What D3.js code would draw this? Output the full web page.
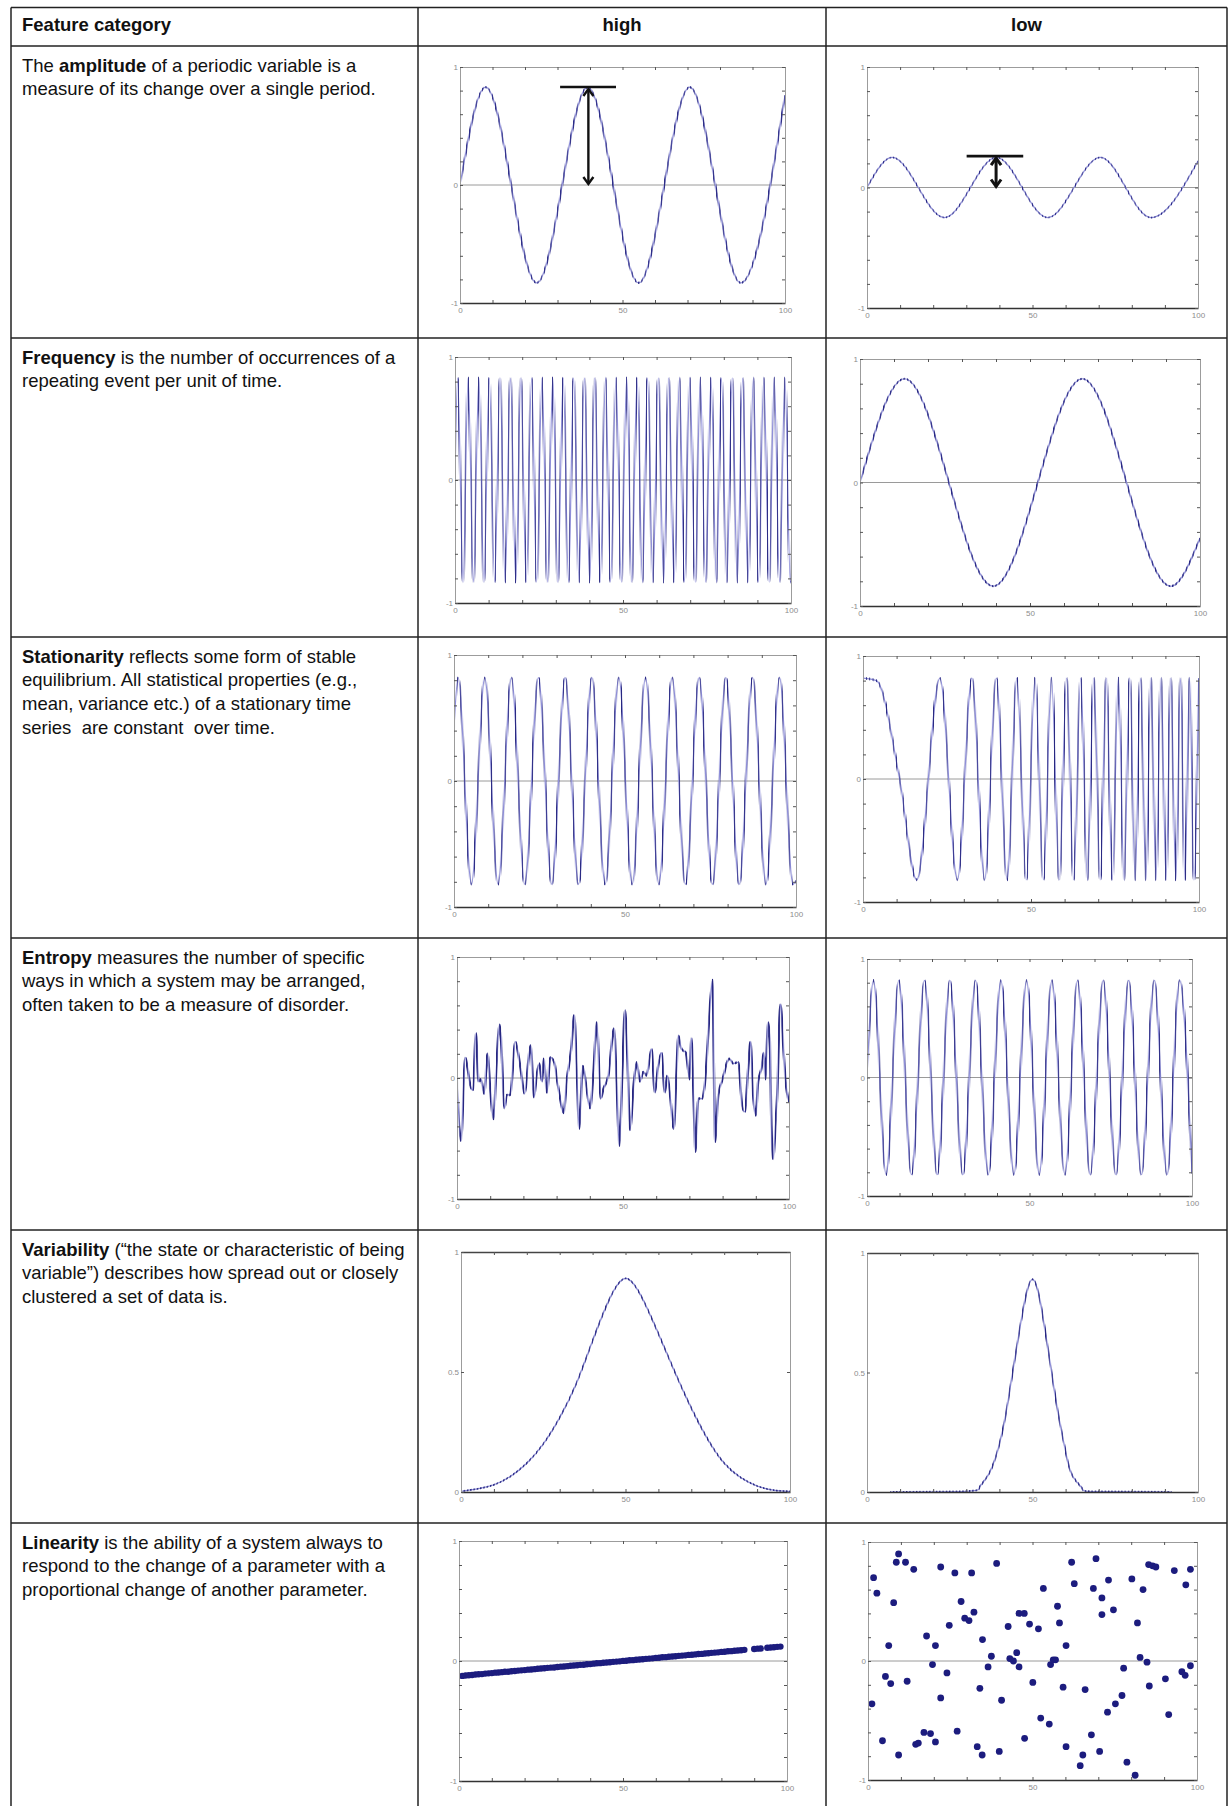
<!DOCTYPE html>
<html>
<head>
<meta charset="utf-8">
<script src="https://cdn.jsdelivr.net/npm/d3@7"></script>
<style>
  body { margin: 0; background: #fff; }
  svg { display: block; }
</style>
</head>
<body>
<script>
// ---- table text ----
var headers = ["Feature category", "high", "low"];

// each row: list of lines, each line: list of [text, bold]
var featureRows = [
  [[["The ", 0], ["amplitude", 1], [" of a periodic variable is a", 0]],
   [["measure of its change over a single period.", 0]]],
  [[["Frequency", 1], [" is the number of occurrences of a", 0]],
   [["repeating event per unit of time.", 0]]],
  [[["Stationarity", 1], [" reflects some form of stable", 0]],
   [["equilibrium. All statistical properties (e.g.,", 0]],
   [["mean, variance etc.) of a stationary time", 0]],
   [["series  are constant  over time.", 0]]],
  [[["Entropy", 1], [" measures the number of specific", 0]],
   [["ways in which a system may be arranged,", 0]],
   [["often taken to be a measure of disorder.", 0]]],
  [[["Variability", 1], [" (\u201cthe state or characteristic of being", 0]],
   [["variable\u201d) describes how spread out or closely", 0]],
   [["clustered a set of data is.", 0]]],
  [[["Linearity", 1], [" is the ability of a system always to", 0]],
   [["respond to the change of a parameter with a", 0]],
   [["proportional change of another parameter.", 0]]]
];

// ---- axis ticks ----
var xTicks = [0, 10, 20, 30, 40, 50, 60, 70, 80, 90, 100];
var xTickLabels = [0, 50, 100];
var yTicks = [-1, -0.8, -0.6, -0.4, -0.2, 0, 0.2, 0.4, 0.6, 0.8, 1];
var yTickLabels = [-1, 0, 1];
var yTicksVar = [0, 0.5, 1];
var yTickLabelsVar = [0, 0.5, 1];

// ---- series (extrema and key points) ----
var ampHighX = [0, 7.9, 23.6, 39.3, 55.0, 70.7, 86.4, 100];
var ampHighY = [0, 0.83, -0.83, 0.83, -0.83, 0.83, -0.83, 0.76];
var ampLowX = [0, 7.6, 23.4, 39.1, 54.6, 70.5, 85.8, 100];
var ampLowY = [0, 0.25, -0.25, 0.25, -0.25, 0.25, -0.25, 0.22];
// amplitude markers: bar [x0, x1, y], arrow [x, yTop, yBottom]
var ampHighBar = [30.8, 48.0, 0.83];
var ampHighArrow = [39.5, 0.83, 0.0];
var ampLowBar = [30.1, 47.2, 0.26];
var ampLowArrow = [39.0, 0.26, 0.0];

var freqHighX = [0, 0.8, 2.4, 3.9, 5.5, 7.1, 8.6, 10.2, 11.8, 13.4, 14.9,
  16.5, 18.1, 19.6, 21.2, 22.8, 24.3, 25.9, 27.5, 29.1, 30.6,
  32.2, 33.8, 35.3, 36.9, 38.5, 40.1, 41.6, 43.2, 44.8, 46.3,
  47.9, 49.5, 51.1, 52.6, 54.2, 55.8, 57.3, 58.9, 60.5, 62.1,
  63.6, 65.2, 66.8, 68.3, 69.9, 71.5, 73.0, 74.6, 76.2, 77.8,
  79.3, 80.9, 82.5, 84.0, 85.6, 87.2, 88.8, 90.3, 91.9, 93.5,
  95.0, 96.6, 98.2, 99.8, 100];
var freqHighY = [0,
  0.83, -0.83, 0.83, -0.83, 0.83, -0.83, 0.83, -0.83, 0.83, -0.83,
  0.83, -0.83, 0.83, -0.83, 0.83, -0.83, 0.83, -0.83, 0.83, -0.83,
  0.83, -0.83, 0.83, -0.83, 0.83, -0.83, 0.83, -0.83, 0.83, -0.83,
  0.83, -0.83, 0.83, -0.83, 0.83, -0.83, 0.83, -0.83, 0.83, -0.83,
  0.83, -0.83, 0.83, -0.83, 0.83, -0.83, 0.83, -0.83, 0.83, -0.83,
  0.83, -0.83, 0.83, -0.83, 0.83, -0.83, 0.83, -0.83, 0.83, -0.83,
  0.83, -0.83, 0.83, -0.83, -0.82];
var freqLowX = [0, 13.1, 39.2, 65.4, 91.4, 100];
var freqLowY = [0, 0.84, -0.84, 0.84, -0.84, -0.45];

var statHighX = [0, 1.2, 5.1, 9.0, 12.9, 16.8, 20.7, 24.7, 28.6, 32.5, 36.4,
  40.3, 44.2, 48.2, 52.1, 56.0, 59.9, 63.8, 67.7, 71.7, 75.6,
  79.5, 83.4, 87.3, 91.2, 95.2, 99.1, 100];
var statHighY = [0.42, 0.82, -0.82, 0.82, -0.82, 0.82, -0.82, 0.82, -0.82, 0.82, -0.82,
  0.82, -0.82, 0.82, -0.82, 0.82, -0.82, 0.82, -0.82, 0.82, -0.82,
  0.82, -0.82, 0.82, -0.82, 0.82, -0.82, -0.79];
var statLowX = [0, 4, 10.9, 16.0, 22.9, 28.1, 32.4, 36.2, 39.7, 42.9, 45.8, 48.6, 51.2,
  53.7, 56.1, 58.4, 60.6, 62.7, 64.8, 66.8, 68.7, 70.6, 72.4,
  74.2, 76.0, 77.7, 79.4, 81.0, 82.6, 84.2, 85.7, 87.2, 88.7,
  90.2, 91.6, 93.1, 94.5, 95.8, 97.2, 98.5, 99.9];
var statLowY = [0.82, 0.80, 0, -0.82, 0.82, -0.82, 0.82, -0.82, 0.82, -0.82, 0.82, -0.82, 0.82,
  -0.82, 0.82, -0.82, 0.82, -0.82, 0.82, -0.82, 0.82, -0.82, 0.82,
  -0.82, 0.82, -0.82, 0.82, -0.82, 0.82, -0.82, 0.82, -0.82, 0.82,
  -0.82, 0.82, -0.82, 0.82, -0.82, 0.82, -0.82, 0.82];

var entHighX = [0, 1.2, 2.5, 3.2, 4.0, 4.8, 5.7, 6.5, 7.2, 8.2,
  9.2, 10.0, 11.0, 11.8, 12.8, 13.2, 14.3, 15.0, 16.0, 17.6,
  18.5, 19.3, 20.3, 22.2, 23.2, 24.0, 24.8, 25.6, 26.1, 27.1,
  28.1, 29.3, 30.1, 30.9, 32.1, 33.1, 34.4, 35.3, 36.1, 36.8,
  37.9, 38.9, 40.1, 41.1, 42.1, 43.3, 44.1, 45.6, 47.3, 48.1,
  48.9, 49.8, 50.6, 51.3, 52.1, 53.3, 54.1, 55.1, 56.1, 57.1,
  58.6, 59.6, 60.6, 61.6, 62.6, 63.3, 64.1, 65.3, 66.1, 66.7,
  67.6, 68.9, 70.1, 70.6, 71.3, 71.8, 72.7, 73.9, 74.6, 76.5,
  77.0, 77.4, 77.7, 78.7, 80.0, 82.0, 83.2, 84.7, 85.9, 86.7,
  87.7, 88.4, 89.2, 90.0, 90.7, 91.7, 92.4, 92.9, 93.7, 94.2,
  94.7, 95.2, 96.0, 96.4, 97.4, 97.7, 98.2, 99.0, 100];
var entHighY = [-0.01, -0.52, 0.17, 0.08, -0.06, -0.10, 0.37, -0.03, -0.01, -0.13,
  0.20, -0.09, -0.34, 0.05, 0.44, 0.35, -0.25, -0.14, -0.14, 0.30,
  0.19, 0.05, -0.13, 0.27, -0.16, 0.02, 0.12, -0.03, 0.16, -0.12,
  0.17, 0.13, -0.01, -0.14, -0.29, -0.01, 0.24, 0.52, 0.05, -0.42,
  0.10, -0.06, -0.25, 0.05, 0.46, -0.17, -0.09, 0.02, 0.41, -0.06,
  -0.56, 0.05, 0.56, 0.19, -0.43, -0.03, 0.13, -0.03, 0.05, 0.02,
  0.24, -0.12, 0.10, 0.21, -0.12, 0.02, -0.12, -0.42, 0.05, 0.35,
  0.24, 0.21, -0.01, 0.33, -0.20, -0.61, -0.17, -0.17, -0.06, 0.70,
  0.81, 0.05, -0.53, -0.14, -0.01, 0.16, 0.12, 0.13, -0.23, -0.28,
  0.08, 0.30, -0.14, -0.31, -0.03, 0.08, 0.21, -0.01, 0.46, 0.33,
  -0.39, -0.67, -0.36, -0.17, 0.61, 0.55, 0.30, -0.03, -0.20];
var entLowX = [0, 2.0, 5.9, 9.8, 13.7, 17.7, 21.6, 25.5, 29.5, 33.4, 37.3,
  41.2, 45.2, 49.1, 53.0, 56.9, 60.9, 64.8, 68.7, 72.7, 76.6,
  80.5, 84.4, 88.4, 92.3, 96.2, 100];
var entLowY = [0, 0.82, -0.82, 0.82, -0.82, 0.82, -0.82, 0.82, -0.82, 0.82, -0.82,
  0.82, -0.82, 0.82, -0.82, 0.82, -0.82, 0.82, -0.82, 0.82, -0.82,
  0.82, -0.82, 0.82, -0.82, 0.82, -0.81];

var varHighX = [0, 5, 10, 15, 20, 25, 30, 35, 40, 45, 50, 55, 60, 65, 70, 75, 80, 85, 90, 95, 100];
var varHighY = [0.003, 0.013, 0.03, 0.065, 0.12, 0.2, 0.31, 0.45, 0.63, 0.8, 0.89, 0.81, 0.66, 0.5, 0.35, 0.22, 0.12, 0.06, 0.025, 0.008, 0.002];
var varLowX = [7, 30, 34, 37, 40, 42, 44, 46, 48, 50, 52, 54, 56, 58, 60, 62, 65, 69, 92];
var varLowY = [0, 0.003, 0.02, 0.08, 0.2, 0.33, 0.5, 0.67, 0.82, 0.89, 0.82, 0.66, 0.48, 0.31, 0.17, 0.07, 0.015, 0.002, 0];

var linHighX = [1, 2, 3, 4, 5, 6, 7, 8, 9, 10, 11, 12, 13, 14, 15, 16, 17, 18, 19, 20,
  21, 22, 23, 24, 25, 26, 27, 28, 29, 30, 31, 32, 33, 34, 35, 36, 37, 38, 39, 40,
  41, 42, 43, 44, 45, 46, 47, 48, 49, 50, 51, 52, 53, 54, 55, 56, 57, 58, 59, 60,
  61, 62, 63, 64, 65, 66, 67, 68, 69, 70, 71, 72, 73, 74, 75, 76, 77, 78, 79, 80,
  81, 82, 83, 84, 85, 86, 87, 90, 91, 92, 94, 95, 96, 97, 98];
var linHighY = [-0.124, -0.121, -0.119, -0.117, -0.113, -0.111, -0.109, -0.105, -0.103, -0.101,
  -0.097, -0.096, -0.093, -0.090, -0.089, -0.085, -0.083, -0.080, -0.078, -0.076,
  -0.072, -0.071, -0.068, -0.065, -0.063, -0.061, -0.057, -0.055, -0.054, -0.050,
  -0.047, -0.046, -0.043, -0.039, -0.038, -0.035, -0.032, -0.031, -0.027, -0.026,
  -0.022, -0.019, -0.018, -0.015, -0.012, -0.011, -0.007, -0.005, -0.003, 0.001,
  0.002, 0.006, 0.007, 0.010, 0.013, 0.014, 0.018, 0.020, 0.022, 0.026,
  0.027, 0.031, 0.032, 0.035, 0.038, 0.039, 0.043, 0.045, 0.047, 0.051,
  0.052, 0.055, 0.058, 0.059, 0.063, 0.064, 0.068, 0.070, 0.072, 0.076,
  0.077, 0.081, 0.082, 0.085, 0.088, 0.090, 0.093, 0.100, 0.103, 0.104,
  0.110, 0.113, 0.114, 0.118, 0.120];
var linLowX = [1.7, 1.2, 2.7, 4.4, 5.3, 6.3, 6.9, 7.8, 8.6, 9.3,
  9.3, 11.4, 11.9, 13.9, 14.5, 15.3, 17.0, 17.8, 19.0, 19.6,
  20.5, 20.5, 22.1, 22.1, 24.0, 24.7, 26.4, 27.1, 28.3, 29.4,
  30.7, 31.5, 32.2, 33.2, 34.0, 34.7, 34.8, 36.5, 37.5, 39.1,
  39.9, 40.6, 42.6, 43.1, 44.2, 45.2, 45.9, 45.9, 47.5, 47.6,
  49.1, 50.1, 51.8, 52.5, 53.3, 55.1, 55.5, 56.3, 57.0, 57.6,
  58.2, 59.3, 60.2, 60.2, 61.9, 62.7, 64.5, 65.3, 66.0, 67.9,
  68.5, 69.3, 70.4, 71.1, 71.1, 72.8, 73.1, 74.6, 75.2, 77.2,
  77.7, 78.7, 80.2, 81.2, 81.9, 82.7, 83.6, 84.8, 85.3, 85.5,
  86.5, 87.5, 90.4, 91.4, 93.1, 95.4, 96.4, 96.6, 98.0, 98.0];
var linLowY = [0.70, -0.36, 0.57, -0.67, -0.13, 0.13, -0.19, 0.49, 0.83, 0.90,
  -0.79, 0.83, -0.17, 0.77, -0.70, -0.69, -0.60, 0.21, -0.61, -0.03,
  0.13, -0.68, 0.79, -0.31, -0.10, 0.30, 0.74, -0.59, 0.50, 0.36,
  0.34, 0.74, 0.41, -0.72, -0.23, -0.79, 0.18, -0.05, 0.04, 0.82,
  -0.76, -0.33, 0.29, 0.02, 0.00, 0.07, -0.05, 0.40, 0.40, -0.65,
  0.31, -0.18, 0.27, -0.48, 0.61, -0.53, -0.03, 0.01, 0.01, 0.46,
  0.32, -0.22, -0.72, 0.13, 0.83, 0.65, -0.88, -0.79, -0.24, -0.62,
  0.61, 0.86, -0.76, 0.53, 0.39, -0.43, 0.68, 0.43, -0.36, -0.29,
  -0.06, -0.85, 0.69, -0.96, 0.32, 0.03, 0.60, -0.01, 0.81, -0.21,
  0.80, 0.79, -0.15, -0.45, 0.76, -0.09, -0.12, 0.64, 0.77, -0.04];

// ---- layout ----
var W = 1228, H = 1806;
var font = "'Liberation Sans', Arial, Helvetica, sans-serif";
var rowLines = [7.5, 46, 338, 637, 938, 1230, 1523];
var colLines = [11, 418, 826, 1227];

var svg = d3.select("body").append("svg").attr("width", W).attr("height", H);
var defs = svg.append("defs");

// table grid
rowLines.forEach(function(y) {
  svg.append("line").attr("x1", colLines[0]).attr("x2", colLines[3])
    .attr("y1", y).attr("y2", y).attr("stroke", "#222").attr("stroke-width", 1.5);
});
colLines.forEach(function(x) {
  svg.append("line").attr("x1", x).attr("x2", x)
    .attr("y1", rowLines[0]).attr("y2", H + 5).attr("stroke", "#222").attr("stroke-width", 1.5);
});

// header
var headX = [22, (colLines[1] + colLines[2]) / 2, (colLines[2] + colLines[3]) / 2];
headers.forEach(function(h, i) {
  svg.append("text").attr("x", headX[i]).attr("y", 31)
    .attr("text-anchor", i === 0 ? "start" : "middle")
    .attr("font-family", font).attr("font-size", 18.5).attr("font-weight", "bold")
    .attr("fill", "#111").text(h);
});

// description column
featureRows.forEach(function(lines, i) {
  var top = rowLines[i + 1];
  lines.forEach(function(segs, j) {
    var t = svg.append("text").attr("x", 22).attr("y", top + 25.5 + j * 23.8)
      .attr("font-family", font).attr("font-size", 18.5).attr("fill", "#111")
      .style("white-space", "pre");
    segs.forEach(function(s) {
      t.append("tspan").attr("font-weight", s[1] ? "bold" : "normal").text(s[0]);
    });
  });
});

// panel frames [left, right, top, bottom]; sw = marker stripe width, dw = dark stroke width
var panels = [
  {id: "ampHigh", frame: [460, 785, 67, 303], xs: ampHighX, ys: ampHighY, sw: 1.2, dw: 2.3},
  {id: "ampLow", frame: [867, 1198, 67, 308], xs: ampLowX, ys: ampLowY, sw: 1.0, dw: 1.8},
  {id: "freqHigh", frame: [455, 791, 357, 603], xs: freqHighX, ys: freqHighY, sw: 0.8, dw: 2.6},
  {id: "freqLow", frame: [860, 1200, 359, 606], xs: freqLowX, ys: freqLowY, sw: 1.4, dw: 2.0},
  {id: "statHigh", frame: [454, 796, 655, 907], xs: statHighX, ys: statHighY, sw: 1.0, dw: 2.6},
  {id: "statLow", frame: [863, 1199, 656, 902], xs: statLowX, ys: statLowY, sw: 0.9, dw: 2.6},
  {id: "entHigh", frame: [457, 789, 957, 1199], xs: entHighX, ys: entHighY, sw: 1.8, dw: 2.4},
  {id: "entLow", frame: [867, 1192, 959, 1196], xs: entLowX, ys: entLowY, sw: 1.0, dw: 2.6},
  {id: "varHigh", frame: [461, 790, 1252, 1492], xs: varHighX, ys: varHighY, sw: 1.4, dw: 1.8, variab: true},
  {id: "varLow", frame: [867, 1198, 1253, 1492], xs: varLowX, ys: varLowY, sw: 1.3, dw: 2.0, variab: true},
  {id: "linHigh", frame: [459, 787, 1541, 1781], xs: linHighX, ys: linHighY, scatter: true, r: 3.2},
  {id: "linLow", frame: [868, 1197, 1542, 1780], xs: linLowX, ys: linLowY, scatter: true, r: 3.4}
];

var fmt = function(labels) {
  return function(d) { return labels.indexOf(d) >= 0 ? String(d) : ""; };
};

panels.forEach(function(p) {
  var l = p.frame[0], r = p.frame[1], t = p.frame[2], b = p.frame[3];
  var x = d3.scaleLinear().domain([0, 100]).range([l, r]);
  var y = d3.scaleLinear().domain(p.variab ? [0, 1] : [-1, 1]).range([b, t]);
  var yt = p.variab ? yTicksVar : yTicks;
  var yl = p.variab ? yTickLabelsVar : yTickLabels;
  var g = svg.append("g");

  // clip to the plot box
  defs.append("clipPath").attr("id", "clip-" + p.id).append("rect")
    .attr("x", l).attr("y", t - 2).attr("width", r - l).attr("height", b - t + 4);
  var cg = g.append("g").attr("clip-path", "url(#clip-" + p.id + ")");

  if (!p.variab) {
    cg.append("line").attr("x1", l).attr("x2", r).attr("y1", y(0)).attr("y2", y(0))
      .attr("stroke", "#9a9a9a").attr("stroke-width", 1);
  }

  var pts = p.xs.map(function(v, i) { return [v, p.ys[i]]; });

  if (p.scatter) {
    cg.selectAll("circle").data(pts).join("circle")
      .attr("cx", function(d) { return x(d[0]); })
      .attr("cy", function(d) { return y(d[1]); })
      .attr("r", p.r).attr("fill", "#1c1c7e");
  } else {
    var line = d3.line().x(function(d) { return x(d[0]); })
      .y(function(d) { return y(d[1]); })
      .curve(p.variab ? d3.curveNatural : d3.curveMonotoneX);
    // vertical stripe mask gives the sampled-marker look of the original plots
    var step = x(1) - x(0);
    var pat = defs.append("pattern").attr("id", "pat-" + p.id)
      .attr("patternUnits", "userSpaceOnUse")
      .attr("x", x(0) - p.sw / 2).attr("y", 0).attr("width", step).attr("height", H);
    pat.append("rect").attr("width", p.sw).attr("height", H).attr("fill", "#fff");
    defs.append("mask").attr("id", "mask-" + p.id).attr("maskUnits", "userSpaceOnUse")
      .attr("x", 0).attr("y", 0).attr("width", W).attr("height", H)
      .append("rect").attr("x", l).attr("y", t - 5).attr("width", r - l).attr("height", b - t + 10)
      .attr("fill", "url(#pat-" + p.id + ")");

    cg.append("path").attr("d", line(pts)).attr("fill", "none")
      .attr("stroke", "#8f8fd8").attr("stroke-width", 1.2);
    cg.append("path").attr("d", line(pts)).attr("fill", "none")
      .attr("stroke", "#262680").attr("stroke-width", p.dw)
      .attr("mask", "url(#mask-" + p.id + ")");
  }

  // frame and ticks
  var axB = g.append("g").attr("transform", "translate(0," + b + ")")
    .call(d3.axisBottom(x).tickValues(xTicks).tickSizeInner(-3).tickSizeOuter(0)
      .tickPadding(4).tickFormat(fmt(xTickLabels)));
  var axT = g.append("g").attr("transform", "translate(0," + t + ")")
    .call(d3.axisTop(x).tickValues(xTicks).tickSizeInner(-3).tickSizeOuter(0).tickFormat(""));
  var axL = g.append("g").attr("transform", "translate(" + l + ",0)")
    .call(d3.axisLeft(y).tickValues(yt).tickSizeInner(-3).tickSizeOuter(0)
      .tickPadding(2).tickFormat(fmt(yl)));
  var axR = g.append("g").attr("transform", "translate(" + r + ",0)")
    .call(d3.axisRight(y).tickValues(yt).tickSizeInner(-3).tickSizeOuter(0).tickFormat(""));
  [axB, axT, axL, axR].forEach(function(a) {
    a.attr("font-family", font).attr("font-size", 8);
    a.select(".domain").attr("stroke", "#9c9c9c").attr("stroke-width", 1);
    a.selectAll(".tick line").attr("stroke", "#555");
    a.selectAll(".tick text").attr("fill", "#8c8c8c");
  });
  axB.select(".domain").attr("stroke", "#333").attr("stroke-width", 1.6);
  if (p.variab) axT.select(".domain").attr("stroke", "#444").attr("stroke-width", 1.6);

  // amplitude annotations
  if (p.id === "ampHigh" || p.id === "ampLow") {
    var bar = p.id === "ampHigh" ? ampHighBar : ampLowBar;
    var arr = p.id === "ampHigh" ? ampHighArrow : ampLowArrow;
    var hw = 5, hh = 7;
    var sw = p.id === "ampHigh" ? 2.4 : 3;
    g.append("line").attr("x1", x(bar[0])).attr("x2", x(bar[1]))
      .attr("y1", y(bar[2])).attr("y2", y(bar[2]))
      .attr("stroke", "#111").attr("stroke-width", 2.6);
    var ax = x(arr[0]), y1 = y(arr[1]) + 2, y2 = y(arr[2]) - 1;
    g.append("line").attr("x1", ax).attr("x2", ax).attr("y1", y1).attr("y2", y2)
      .attr("stroke", "#111").attr("stroke-width", sw);
    g.append("path")
      .attr("d", "M" + (ax - hw) + "," + (y1 + hh) + "L" + ax + "," + y1 + "L" + (ax + hw) + "," + (y1 + hh))
      .attr("fill", "none").attr("stroke", "#111").attr("stroke-width", sw);
    g.append("path")
      .attr("d", "M" + (ax - hw) + "," + (y2 - hh) + "L" + ax + "," + y2 + "L" + (ax + hw) + "," + (y2 - hh))
      .attr("fill", "none").attr("stroke", "#111").attr("stroke-width", sw);
  }
});
</script>
</body>
</html>
